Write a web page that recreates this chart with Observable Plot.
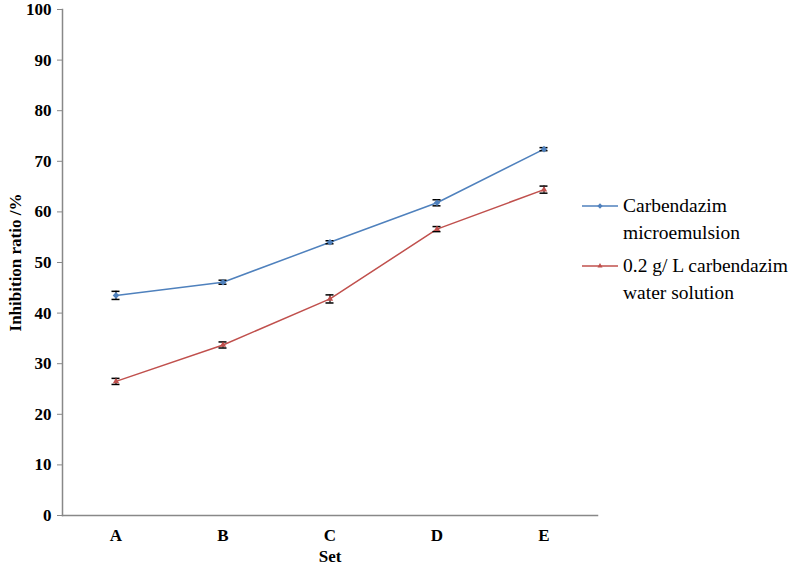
<!DOCTYPE html>
<html>
<head>
<meta charset="utf-8">
<script src="https://cdn.jsdelivr.net/npm/d3@7"></script>
<script src="https://cdn.jsdelivr.net/npm/@observablehq/plot@0.6"></script>
<style>
  html, body { margin: 0; padding: 0; background: #fff; overflow: hidden; }
  #wrap { position: relative; width: 790px; height: 565px; }
  #legend { position: absolute; left: 582px; top: 192px; font-family: "Liberation Serif", "Times New Roman", serif; font-size: 19.5px; color: #000; line-height: 27px; white-space: nowrap; }
  .item { display: flex; align-items: flex-start; margin-bottom: 6px; }
  .item svg { flex: none; margin-top: 8px; margin-right: 5px; }
</style>
</head>
<body>
<div id="wrap"></div>
<script>
const sets = ["A", "B", "C", "D", "E"];
const seriesNames = ["Carbendazim microemulsion", "0.2 g/ L carbendazim water solution"];
const legendLines = [["Carbendazim", "microemulsion"], ["0.2 g/ L carbendazim", "water solution"]];
const microemulsion = [43.5, 46.1, 54.0, 61.8, 72.4];
const microemulsionErr = [0.8, 0.4, 0.3, 0.6, 0.3];
const solution = [26.5, 33.7, 42.8, 56.6, 64.4];
const solutionErr = [0.6, 0.6, 0.8, 0.5, 0.7];
const yTicks = [0, 10, 20, 30, 40, 50, 60, 70, 80, 90, 100];
const colors = ["#4F81BD", "#C0504D"];
const symbols = ["diamond2", "triangle2"];

const rows = [];
[microemulsion, solution].forEach((vals, si) => {
  const errs = si === 0 ? microemulsionErr : solutionErr;
  sets.forEach((s, i) => rows.push({series: seriesNames[si], set: s, value: vals[i], err: errs[i]}));
});

const font = '"Liberation Serif", "Times New Roman", serif';

const chart = Plot.plot({
  width: 790,
  height: 565,
  marginLeft: 62,
  marginRight: 193,
  marginTop: 9,
  marginBottom: 50,
  style: {fontFamily: font, fontSize: "17px", color: "#000", background: "#fff"},
  x: {type: "band", domain: sets, padding: 0},
  y: {domain: [0, 100]},
  color: {domain: seriesNames, range: colors},
  symbol: {domain: seriesNames, range: symbols},
  marks: [
    Plot.axisY({ticks: yTicks, tickSize: 5, tickPadding: 6, stroke: "#888", fontWeight: "bold", fill: "#000",
      label: "Inhibition ratio /%", labelAnchor: "center", labelArrow: "none", labelOffset: 54}),
    Plot.axisX({tickSize: 0, tickPadding: 13, fontWeight: "bold", fill: "#000",
      label: "Set", labelAnchor: "center", labelArrow: "none", labelOffset: 46}),
    Plot.frame({anchor: "left", stroke: "#888", strokeWidth: 1.5}),
    Plot.frame({anchor: "bottom", stroke: "#888", strokeWidth: 1.5}),
    Plot.line(rows, {x: "set", y: "value", z: "series", stroke: "series", strokeWidth: 1.5}),
    Plot.ruleX(rows, {x: "set", y1: d => d.value - d.err, y2: d => d.value + d.err, stroke: "#000", strokeWidth: 1.2}),
    Plot.tickY(rows, {x: "set", y: d => d.value - d.err, stroke: "#000", strokeWidth: 1.5, insetLeft: 49.5, insetRight: 49.5}),
    Plot.tickY(rows, {x: "set", y: d => d.value + d.err, stroke: "#000", strokeWidth: 1.5, insetLeft: 49.5, insetRight: 49.5}),
    Plot.dot(rows, {x: "set", y: "value", symbol: "series", fill: "series", r: 3})
  ]
});

const wrap = document.getElementById("wrap");
wrap.appendChild(chart);

const legend = document.createElement("div");
legend.id = "legend";
seriesNames.forEach((name, i) => {
  const item = document.createElement("div");
  item.className = "item";
  const sym = d3.symbol(i === 0 ? d3.symbolDiamond2 : d3.symbolTriangle2, 18)();
  item.innerHTML = `<svg width="36" height="12"><line x1="0" x2="36" y1="6" y2="6" stroke="${colors[i]}" stroke-width="1.5"/><path d="${sym}" transform="translate(18,6)" fill="${colors[i]}"/></svg><div>${legendLines[i].join("<br>")}</div>`;
  legend.appendChild(item);
});
wrap.appendChild(legend);
</script>
</body>
</html>
